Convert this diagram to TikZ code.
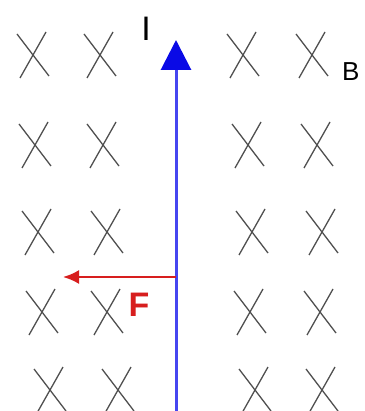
\documentclass[tikz,border=0pt]{standalone}
\usepackage{fontspec}
\setmainfont{Liberation Sans}
\usetikzlibrary{arrows.meta}
\definecolor{wireblue}{RGB}{70,70,240}
\definecolor{tipblue}{RGB}{10,10,230}
\definecolor{forcered}{RGB}{215,30,30}
\definecolor{markgray}{RGB}{80,80,80}
\tikzset{
  xmark/.style={draw=markgray, line width=1.3pt},
  wire/.style={draw=wireblue, line width=3pt},
  force/.style={draw=forcered, line width=2.2pt},
  lbl/.style={inner sep=0pt, font=\fontsize{30}{30}\selectfont}
}
\begin{document}
\begin{tikzpicture}[x=1pt, y=-1pt]
    \useasboundingbox (0,0) rectangle (364,411);
    % field crosses
    \foreach \cx/\cy in {33/55, 100/55, 243/55, 312/55,
                         35/145, 103/145, 248/145, 317/145,
                         38/232, 107/232, 252/232, 322/232,
                         42/312, 107/312, 250/312, 320/312,
                         50/390, 118/390, 255/390, 322/390}
        \draw[xmark] (\cx-16,\cy-21) -- (\cx+16,\cy+21)
                     (\cx+13,\cy-23) -- (\cx-13,\cy+23);
    % wire with current
    \coordinate (wbot) at (176,411);
    \coordinate (wtop) at (176,40);
    \draw[wire, -{Triangle[length=30pt, width=30pt, fill=tipblue, color=tipblue]}] (wbot) -- (wtop);
    \node[lbl, font=\fontsize{34}{34}\selectfont] (curlbl) at (146,29) {I};
    % force on wire
    \coordinate (fstart) at (176,277);
    \coordinate (fend) at (63,277);
    \draw[force, -{Latex[length=16pt, width=14pt]}] (fstart) -- (fend);
    \node[lbl, text=forcered, font=\fontsize{34}{34}\selectfont\bfseries] (flbl) at (139,305) {F};
    \node[lbl, anchor=west, font=\fontsize{26}{26}\selectfont] (blbl) at (342,72) {B};
\end{tikzpicture}
\end{document}
